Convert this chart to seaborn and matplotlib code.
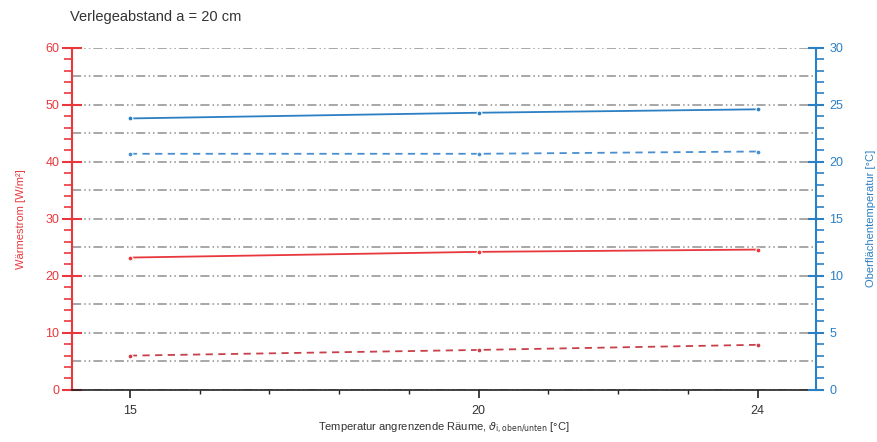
import pandas as pd
import numpy as np
import matplotlib.pyplot as plt
import seaborn as sns
from matplotlib.ticker import MultipleLocator, FixedLocator

temps = [15, 20, 24]
waerme_solid = [23.2, 24.2, 24.6]
waerme_dashed = [6.0, 7.0, 7.9]
ober_solid = [23.8, 24.3, 24.6]
ober_dashed = [20.7, 20.7, 20.9]

RED = "#e8383d"
RED_DARK = "#c8404a"
BLUE = "#2b7fc3"
BLUE_LIGHT = "#4a8fd0"


def main():
    sns.set_style("white")
    plt.rcParams["font.family"] = ["Liberation Sans", "DejaVu Sans"]

    df_left = pd.DataFrame({"t": temps * 2,
                            "v": waerme_solid + waerme_dashed,
                            "s": ["solid"] * 3 + ["dashed"] * 3})
    df_right = pd.DataFrame({"t": temps * 2,
                             "v": ober_solid + ober_dashed,
                             "s": ["solid"] * 3 + ["dashed"] * 3})

    fig, ax = plt.subplots(figsize=(8.77, 4.42), dpi=100)
    fig.subplots_adjust(left=0.082, right=0.93, top=0.892, bottom=0.118)
    ax2 = ax.twinx()

    # gitterlinien alle 5 einheiten (linke achse)
    for y in np.arange(0, 61, 5):
        ax.axhline(y, color="#8f8f8f", lw=1.1, ls=(0, (6, 2, 1, 2, 1, 2)), zorder=0)

    sns.lineplot(data=df_left[df_left.s == "solid"], x="t", y="v", ax=ax,
                 color=RED, lw=1.3, marker="o", markersize=3.5, legend=False)
    sns.lineplot(data=df_left[df_left.s == "dashed"], x="t", y="v", ax=ax,
                 color=RED_DARK, lw=1.3, ls=(0, (4, 3)), marker="o", markersize=3.5, legend=False)
    sns.lineplot(data=df_right[df_right.s == "solid"], x="t", y="v", ax=ax2,
                 color=BLUE, lw=1.3, marker="o", markersize=3.5, legend=False)
    sns.lineplot(data=df_right[df_right.s == "dashed"], x="t", y="v", ax=ax2,
                 color=BLUE_LIGHT, lw=1.3, ls=(0, (4, 3)), marker="o", markersize=3.5, legend=False)

    ax.set_xlim(14.17, 24.83)
    ax.set_ylim(0, 60)
    ax2.set_ylim(0, 30)

    ax.xaxis.set_major_locator(FixedLocator(temps))
    ax.xaxis.set_minor_locator(MultipleLocator(1))
    ax.yaxis.set_major_locator(MultipleLocator(10))
    ax.yaxis.set_minor_locator(MultipleLocator(2))
    ax2.yaxis.set_major_locator(MultipleLocator(5))
    ax2.yaxis.set_minor_locator(MultipleLocator(1))

    for a in (ax, ax2):
        a.spines["top"].set_visible(False)
    ax.spines["right"].set_visible(False)
    ax2.spines["left"].set_visible(False)
    ax2.spines["bottom"].set_visible(False)

    ax.spines["left"].set_color(RED)
    ax.spines["left"].set_linewidth(1.5)
    ax2.spines["right"].set_color(BLUE)
    ax2.spines["right"].set_linewidth(1.5)
    ax.spines["bottom"].set_color("#222222")
    ax.spines["bottom"].set_linewidth(1.2)

    ax.tick_params(axis="y", which="major", direction="inout", length=14, width=1.5,
                   color=RED, labelcolor=RED, labelsize=9, pad=2)
    ax.tick_params(axis="y", which="minor", direction="out", length=6, width=1.2, color=RED,
                   left=True)
    ax2.tick_params(axis="y", which="major", direction="inout", length=12, width=1.5,
                    color=BLUE, labelcolor=BLUE, labelsize=9, pad=4)
    ax2.tick_params(axis="y", which="minor", direction="out", length=6, width=1.2, color=BLUE,
                    right=True)
    ax.tick_params(axis="x", which="major", direction="out", length=6, width=1.2,
                   color="#222222", labelsize=9, labelcolor="#333333", bottom=True, pad=5)
    ax.tick_params(axis="x", which="minor", direction="out", length=3, width=1.0,
                   color="#222222", bottom=True)

    ax.set_ylabel("Wärmestrom [W/m²]", color=RED, fontsize=8, labelpad=14)
    ax2.set_ylabel("Oberflächentemperatur [°C]", color=BLUE, fontsize=8, labelpad=16)
    ax.set_xlabel(r"Temperatur angrenzende Räume, $\vartheta_{\mathrm{i,oben/unten}}$ [°C]",
                  fontsize=8, color="#333333", labelpad=3)
    fig.text(0.08, 0.962, "Verlegeabstand a = 20 cm", fontsize=10.5, color="#333333",
             ha="left", va="center")

    fig.savefig("out.png", dpi=100, facecolor="white")


if __name__ == "__main__":
    main()
